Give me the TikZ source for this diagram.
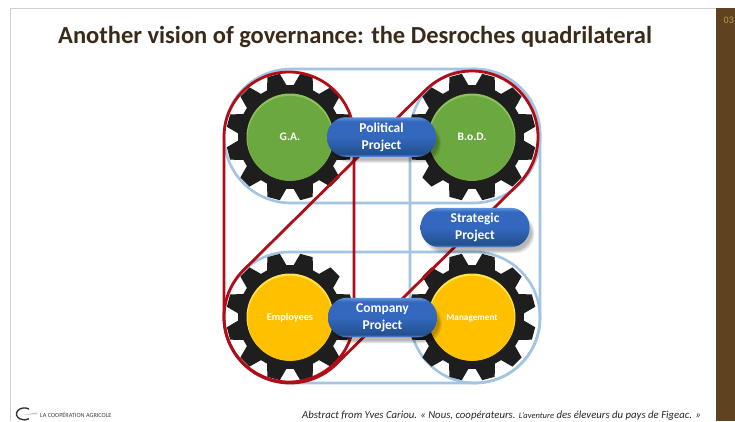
\documentclass[tikz,border=0pt]{standalone}
\usepackage{fontspec}
\setmainfont{Carlito}
\usetikzlibrary{calc}
\definecolor{beltred}{HTML}{B00D16}
\definecolor{beltblue}{HTML}{A3C4E2}
\definecolor{gearblack}{HTML}{1E1E1E}
\definecolor{titlebrown}{HTML}{3A2A1A}
\definecolor{band}{HTML}{5F4321}
\definecolor{bandtext}{HTML}{B89A50}
\definecolor{framegray}{HTML}{D0D0D0}
\definecolor{greenA}{HTML}{6BA83F}
\definecolor{greenB}{HTML}{8CC258}
\definecolor{yellowA}{HTML}{FFC000}
\definecolor{yellowB}{HTML}{FFE24A}
\definecolor{pillEdge}{HTML}{5F95E0}
\definecolor{pillTop}{HTML}{3468BE}
\definecolor{pillLow}{HTML}{22508F}
\pgfdeclareverticalshading{pillshade}{100bp}{
  color(0bp)=(pillEdge); color(25bp)=(pillEdge); color(28.5bp)=(pillLow);
  color(50bp)=(pillTop); color(70bp)=(pillTop); color(75bp)=(pillEdge); color(100bp)=(pillEdge)}
\tikzset{
  bluebelt/.style={draw=beltblue,line width=2.6pt,rounded corners=#1},
  redbelt/.style={draw=beltred,line width=2.8pt},
  pill/.style={rectangle,rounded corners=19pt,minimum width=109pt,minimum height=39.5pt,
    inner sep=0pt,shading=pillshade,text=white,align=center,
    font=\bfseries\fontsize{13.5}{17}\selectfont},
  disc/.style={font=\bfseries\fontsize{#1}{12}\selectfont,text=white,inner sep=0pt}
}
\newcommand{\mygear}[3]{%
  \fill[gearblack] ($(#1)+(4:52pt)$)
    \foreach \k in {0,...,11}{
      -- ($(#1)+({\k*30+9.2}:64pt)$) -- ($(#1)+({\k*30+20.8}:64pt)$)
      -- ($(#1)+({\k*30+26}:52pt)$) -- ($(#1)+({\k*30+34}:52pt)$)
    } -- cycle;
  \fill[#3] (#1) circle[radius=43.5pt];
  \fill[#2] ($(#1)+(0,1.4)$) circle[radius=42.5pt];
}
\newcommand{\pillshadow}[1]{%
  \foreach \d in {0,1,...,6}{
    \fill[black,opacity=.045,rounded corners=19pt]
      ($(#1)+(-52.5-\d/2+4,-17-\d/2+6)$) rectangle ($(#1)+(52.5+\d/2+4,17+\d/2+6)$);
  }
}
\begin{document}
\begin{tikzpicture}[x=1pt,y=-1pt]
\useasboundingbox (0,0) rectangle (735,421);
\fill[white] (0,0) rectangle (735,421);
\draw[framegray,line width=1pt] (10.5,421) -- (10.5,8.5) -- (716,8.5);
\fill[band] (716,8) rectangle (735,421);
\node[anchor=west,text=bandtext,font=\fontsize{10}{12}\selectfont,inner sep=0pt] (page) at (723.5,20) {03};
\node[anchor=base west,inner sep=0pt,text=titlebrown,font=\bfseries\fontsize{24.5}{28}\selectfont] (title) at (58,43) {Another vision of governance: the Desroches quadrilateral};

\coordinate (ga) at (290,137);
\coordinate (bod) at (472,137);
\coordinate (emp) at (290,317);
\coordinate (man) at (472,317);

\draw[bluebelt=67pt] (224,69) rectangle (540,203);
\draw[bluebelt=65.5pt] (224,252) rectangle (540,383);
\draw[bluebelt=65pt] (410,69) rectangle (540,383);

\mygear{ga}{greenA}{greenB}
\mygear{bod}{greenA}{greenB}
\mygear{emp}{yellowA}{yellowB}
\mygear{man}{yellowA}{yellowB}

\draw[redbelt] ($(289,137)+(180:65pt)$) arc[start angle=180,end angle=0,radius=65pt]
  -- ($(289,317)+(0:65pt)$) arc[start angle=0,end angle=-180,radius=65pt] -- cycle;
\draw[redbelt] ($(emp)+(135:66pt)$) arc[start angle=135,end angle=315,radius=66pt]
  -- ($(bod)+(315:66pt)$) arc[start angle=-45,end angle=135,radius=66pt] -- cycle;

\node[disc=11.5] (tga) at (290,137) {G.A.};
\node[disc=11.5] (tbod) at (472,137) {B.o.D.};
\node[disc=10.3] (temp) at (290,318) {Employees};
\node[disc=9.2] (tman) at (472,318) {Management};

\pillshadow{381.5,137}
\pillshadow{475,227.5}
\pillshadow{382.5,317.5}
\node[pill] (pol) at (381.5,137) {Political\\Project};
\node[pill] (str) at (475,227.5) {Strategic\\Project};
\node[pill] (com) at (382.5,317.5) {Company\\Project};

\node[anchor=base west,inner sep=0pt,font=\itshape\fontsize{10.75}{12}\selectfont,text=black!85] (foot) at (302,418)
  {Abstract from Yves Cariou. « Nous, coopérateurs. {\fontsize{8.5}{10}\selectfont L’aventure} des éleveurs du pays de Figeac. »};
\draw[black!80,line width=1.4pt] (29,409) arc[start angle=55,end angle=305,x radius=8pt,y radius=6pt] coordinate (logoend);
\fill[black!25] (23,415) -- (37,412.5) -- (37,414) -- cycle;
\node[anchor=base west,inner sep=0pt,font=\fontsize{6.2}{7}\selectfont,text=black!75] (logo) at (40,417.5) {LA COOPÉRATION AGRICOLE};
\end{tikzpicture}
\end{document}
